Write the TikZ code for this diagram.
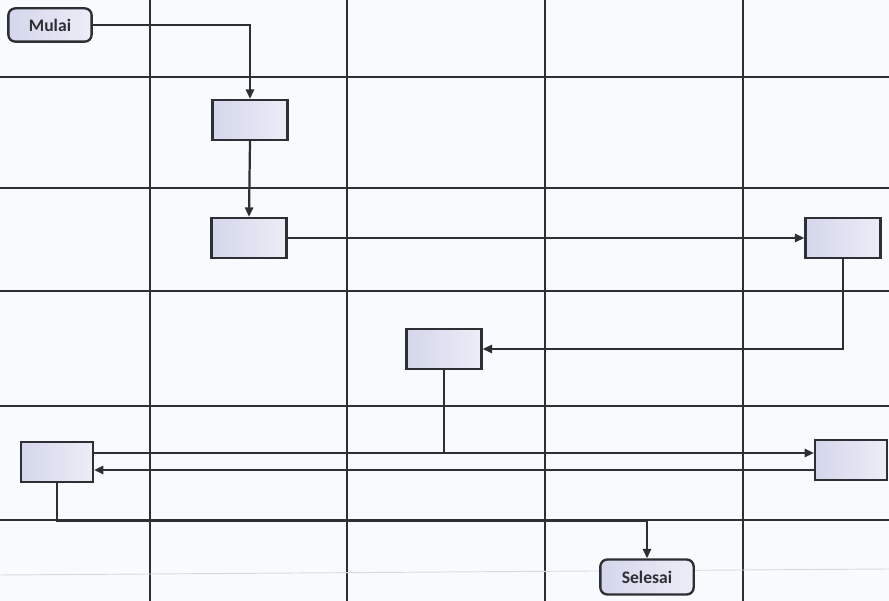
\documentclass[tikz,border=0pt]{standalone}
\usepackage{fontspec}
\setmainfont{Carlito}
\usepackage{xcolor}
\usepackage{tikz}
\usetikzlibrary{arrows.meta, positioning}

\definecolor{paper}{RGB}{248,251,253}
\definecolor{ink}{RGB}{45,47,52}
\definecolor{boxL}{RGB}{212,214,236}
\definecolor{boxR}{RGB}{236,237,246}

\begin{document}
\begin{tikzpicture}[
  x=0.03cm, y=-0.03cm,
  proc/.style = {
    draw=ink, line width=2pt, left color=boxL, right color=boxR,
    minimum width=2.25cm, minimum height=1.2cm, inner sep=0pt
  },
  term/.style = {
    proc, rounded corners=6pt, minimum height=1cm,
    font=\bfseries\fontsize{15}{17}\selectfont, text=ink
  },
  grid/.style = {draw=ink, line width=1.5pt},
  arr/.style  = {-{Triangle[length=8pt,width=7pt]}, draw=ink, line width=1.9pt},
  line/.style = {draw=ink, line width=1.9pt}
]

% page and lanes
\fill[paper] (0,0) rectangle (889,601);
\useasboundingbox (0,0) rectangle (889,601);
\foreach \x in {150,347,545,743}
  \draw[grid] (\x,0) -- (\x,601);
\foreach \y in {77,188,291,406,520}
  \draw[grid] (0,\y) -- (889,\y);
\draw[black!15, line width=0.8pt] (0,575) -- (889,569);

% steps
\node[term, minimum width=2.5cm] (mulai) at (50,25) {Mulai};
\node[proc] (s1) at (250,120) {};
\node[proc] (s2) at (249,238) {};
\node[proc] (s3) at (843,238) {};
\node[proc] (s4) at (444,349) {};
\node[proc, minimum width=2.15cm] (s5) at (57,462) {};
\node[proc, minimum width=2.15cm] (s6) at (851,460) {};
\node[term, minimum width=2.8cm, minimum height=1.05cm] (selesai) at (647,577) {Selesai};

\coordinate (up)  at ([yshift=0.27cm]s5.east);
\coordinate (low) at ([yshift=-0.3cm]s6.west);

% flow
\draw[arr] (mulai.east) -| (s1.north);
\draw[arr] (s1.south) -- (s2.north);
\draw[arr] (s2.east) -- (s3.west);
\draw[arr] (s3.south) |- (s4.east);
\draw[line] (s4.south) -- (s4.south |- up);
\draw[arr] (up) -- (up -| s6.west);
\draw[arr] (low) -- (low -| s5.east);
\draw[arr] (s5.south) -- ++(0,38) -| (selesai.north);

\end{tikzpicture}
\end{document}
